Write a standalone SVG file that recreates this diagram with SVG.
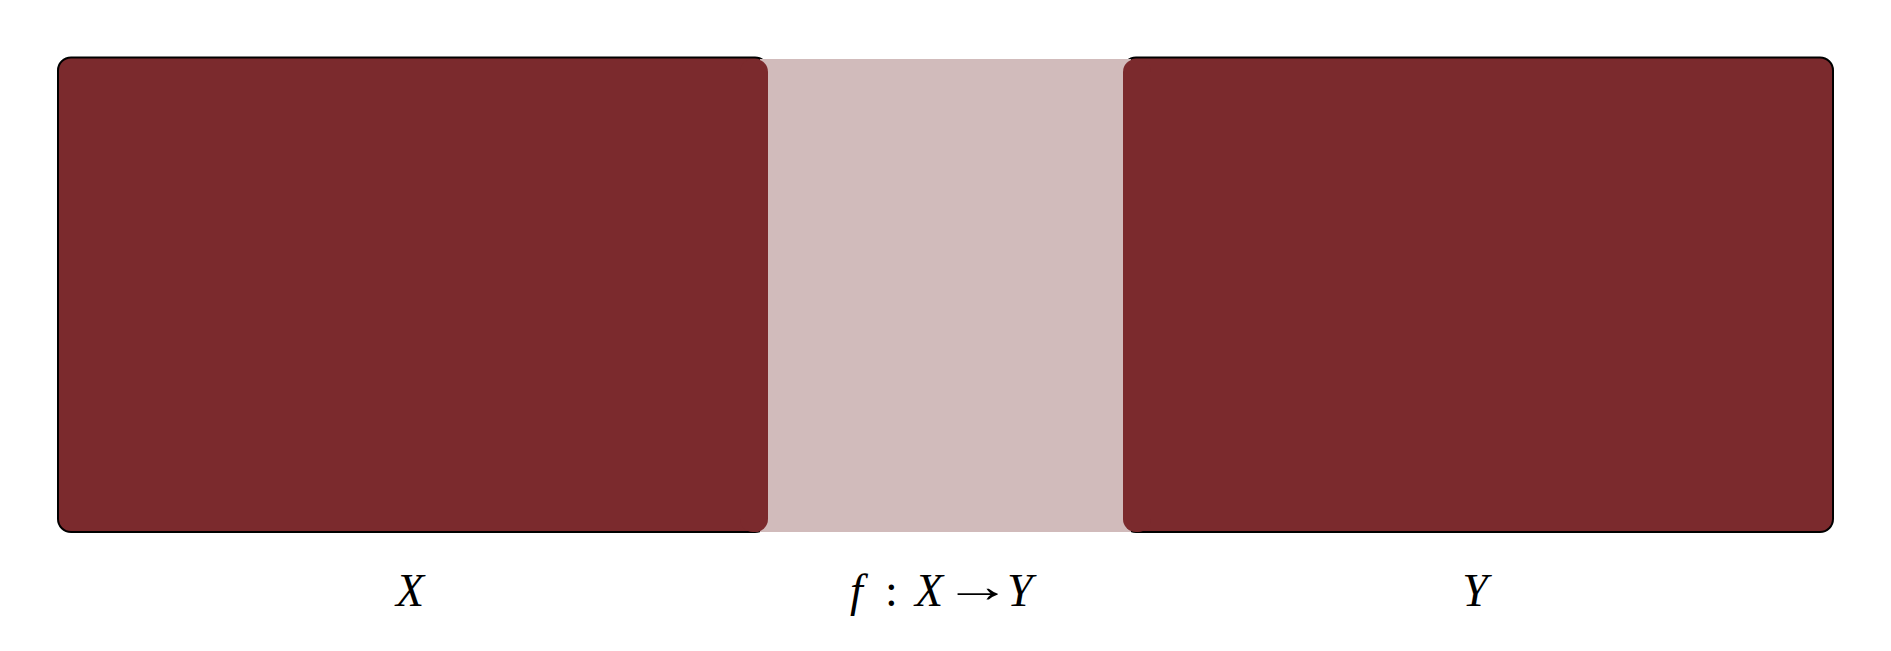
<svg xmlns="http://www.w3.org/2000/svg" width="1891" height="651" viewBox="0 0 1891 651">
<style>
.box{fill:#7b2a2d;stroke:#000;stroke-width:2}
.boxf{fill:#7b2a2d}
.band{fill:#d1bbbb}
.lbl{font-family:"Liberation Serif",serif;font-size:46px;fill:#000}
.it{font-style:italic}
</style>
<rect width="1891" height="651" fill="#fff"/>
<g id="X">
<rect class="box" x="58" y="57.5" width="710" height="474.5" rx="13"/>
</g>
<g id="Y">
<rect class="box" x="1123" y="57.5" width="710" height="474.5" rx="13"/>
</g>
<g id="connectors">
<g id="f">
<rect class="band" x="760" y="59" width="371" height="473"/>
<rect class="boxf" x="740" y="59" width="28" height="473" rx="13"/>
<rect class="boxf" x="1123" y="59" width="28" height="473" rx="13"/>
</g>
</g>
<text class="lbl it" x="410" y="606" text-anchor="middle">X</text>
<text class="lbl it" x="850" y="606">f</text>
<text class="lbl" x="885" y="606">:</text>
<text class="lbl it" x="915" y="606">X</text>
<text class="lbl" x="944" y="602" textLength="68" lengthAdjust="spacingAndGlyphs">→</text>
<text class="lbl it" x="1007" y="606">Y</text>
<text class="lbl it" x="1475" y="606" text-anchor="middle">Y</text>
</svg>
